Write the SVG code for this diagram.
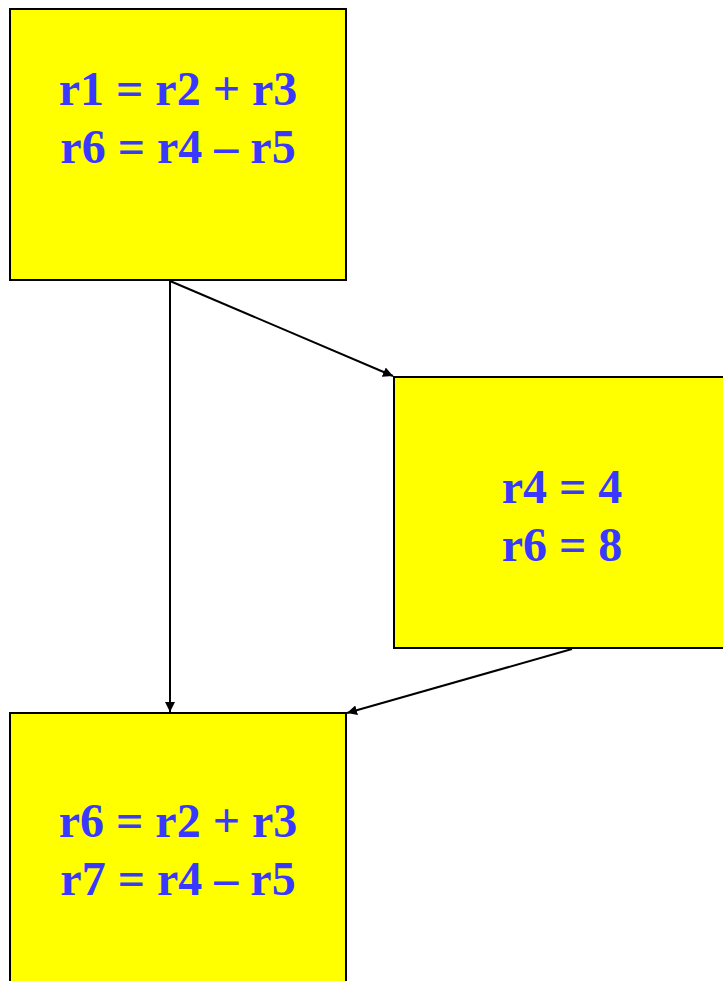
<svg xmlns="http://www.w3.org/2000/svg" width="723" height="981" viewBox="0 0 723 981">
<style>
.box{fill:#ffff00;stroke:#000;stroke-width:2}
.t{font-family:"Liberation Serif","Times New Roman",serif;font-weight:bold;font-size:48px;fill:#3838ff;text-anchor:middle}
.c{stroke:#000;stroke-width:2;fill:none;marker-end:url(#ah)}
</style>
<defs>
<marker id="ah" viewBox="0 0 10 10" refX="10" refY="5" markerWidth="5" markerHeight="5" orient="auto" markerUnits="strokeWidth">
<path d="M0,0 L10,5 L0,10 z" fill="#000"/>
</marker>
</defs>
<g id="connectors">
<line class="c" x1="170" y1="281" x2="170" y2="712"/>
<line class="c" x1="170" y1="281" x2="393" y2="376"/>
<line class="c" x1="572" y1="649" x2="347" y2="713"/>
</g>
<g id="node1">
<rect class="box" x="10" y="9" width="336" height="271"/>
<text class="t" x="178" y="105">r1 = r2 + r3</text>
<text class="t" x="178" y="163">r6 = r4 – r5</text>
</g>
<g id="node2">
<rect class="box" x="394" y="377" width="336" height="271"/>
<text class="t" x="562" y="503">r4 = 4</text>
<text class="t" x="562" y="561">r6 = 8</text>
</g>
<g id="node3">
<rect class="box" x="10" y="713" width="336" height="280"/>
<text class="t" x="178" y="837">r6 = r2 + r3</text>
<text class="t" x="178" y="895">r7 = r4 – r5</text>
</g>
</svg>
